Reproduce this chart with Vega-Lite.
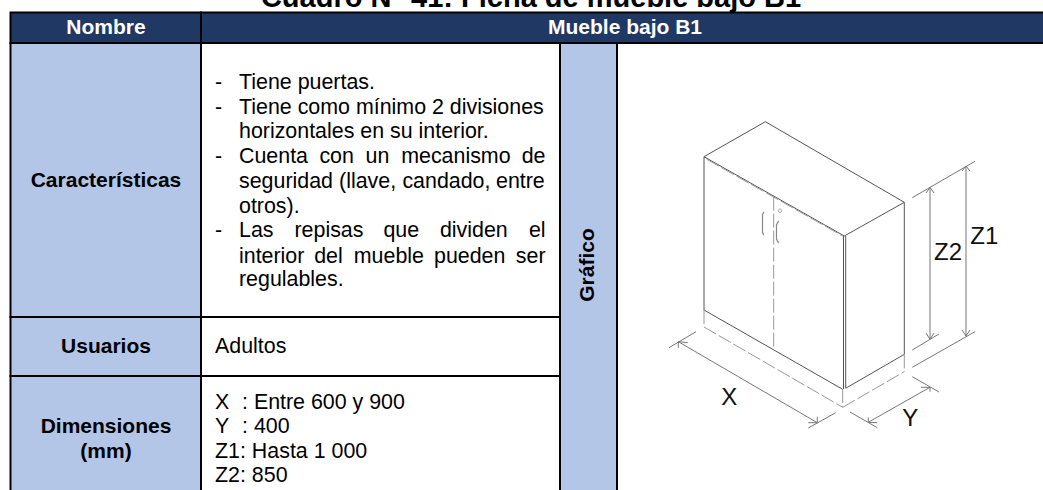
{
"$schema":"https://vega.github.io/schema/vega-lite/v6.json",
"width":1043,"height":490,"padding":0,"autosize":{"type":"fit","contains":"padding"},
"background":"white","view":{"stroke":null},
"datasets":{
"dark":[{"a":10.5,"b":201,"c":12.5,"d":43},{"a":201,"b":1050,"c":12.5,"d":43}],
"light":[{"a":10.5,"b":201,"c":43,"d":317},{"a":10.5,"b":201,"c":317,"d":376},{"a":10.5,"b":201,"c":376,"d":500},{"a":560,"b":617,"c":43,"d":500}],
"plain":[{"a":201,"b":560,"c":43,"d":317},{"a":201,"b":560,"c":317,"d":376},{"a":201,"b":560,"c":376,"d":500},{"a":617,"b":1050,"c":43,"d":500}],
"solid":[
{"a":765.3,"c":121.7,"b":704,"d":156.7},{"a":765.3,"c":121.7,"b":904.3,"d":202.3},{"a":704,"c":156.7,"b":844.3,"d":236},{"a":904.3,"c":202.3,"b":844.3,"d":236},
{"a":704,"c":156.7,"b":704,"d":310},{"a":704,"c":310,"b":842.7,"d":389.3},{"a":904.3,"c":354.3,"b":845.7,"d":388.3},{"a":904.3,"c":202.3,"b":904.3,"d":354.3},
{"a":843.5,"c":236,"b":843.5,"d":389},{"a":845.7,"c":236,"b":845.7,"d":388}],
"dim":[
{"a":912.3,"c":197.7,"b":975,"d":161.3},{"a":930,"c":187.3,"b":930,"d":339.3},{"a":966,"c":166,"b":966,"d":336},
{"a":912.3,"c":350,"b":939,"d":334},{"a":912.3,"c":367.3,"b":975,"d":331.7},
{"a":669,"c":347.7,"b":696,"d":331.7},{"a":808.3,"c":428,"b":835.7,"d":412.7},{"a":678.3,"c":341.7,"b":817.3,"d":422.7},
{"a":850,"c":412,"b":877.3,"d":427.7},{"a":912.3,"c":376.7,"b":939,"d":392},{"a":868.3,"c":422.3,"b":930,"d":387.3},
{"a":930,"c":187.3,"b":926,"d":193},{"a":930,"c":187.3,"b":934,"d":193},{"a":930,"c":339.3,"b":926,"d":333},{"a":930,"c":339.3,"b":934,"d":333},
{"a":966,"c":166,"b":962,"d":171},{"a":966,"c":166,"b":970,"d":171},{"a":966,"c":336,"b":962,"d":330},{"a":966,"c":336,"b":970,"d":330},
{"a":678.3,"c":341.7,"b":678.3,"d":347.7},{"a":678.3,"c":341.7,"b":687.7,"d":342.7},{"a":817.3,"c":422.7,"b":817.3,"d":416.7},{"a":817.3,"c":422.7,"b":808.3,"d":422.7},
{"a":868.3,"c":422.3,"b":868.3,"d":417.3},{"a":868.3,"c":422.3,"b":877.3,"d":422.7},{"a":930,"c":387.3,"b":921,"d":387.3},{"a":930,"c":387.3,"b":930,"d":391.7}],
"dashed":[
{"a":773.7,"c":196.7,"b":773.7,"d":350},{"a":704,"c":310,"b":704,"d":327},{"a":704,"c":327,"b":842.7,"d":407.3},{"a":842.7,"c":407.3,"b":904.3,"d":371.7},
{"a":904.3,"c":354.3,"b":904.3,"d":371.7},{"a":842.7,"c":389,"b":842.7,"d":407.3},{"a":706.7,"c":159.3,"b":842.7,"d":236}],
"handles":[
{"h":"l","a":764,"c":212},{"h":"l","a":762.5,"c":215},{"h":"l","a":762.5,"c":232},{"h":"l","a":764,"c":235},
{"h":"r","a":779,"c":221},{"h":"r","a":776.5,"c":225},{"h":"r","a":776.5,"c":239},{"h":"r","a":779,"c":243}],
"knob":[{"a":780,"c":210.7}],
"body":[
{"t":"-","a":215,"c":83},{"t":"Tiene puertas.","a":239,"c":83},
{"t":"-","a":215,"c":108},{"t":"Tiene como mínimo 2 divisiones","a":239,"c":108},
{"t":"horizontales en su interior.","a":239,"c":132},
{"t":"-","a":215,"c":157},{"t":"Cuenta","a":239,"c":157},{"t":"con","a":319.4,"c":157},{"t":"un","a":365.6,"c":157},{"t":"mecanismo","a":401.2,"c":157},{"t":"de","a":521.7,"c":157},
{"t":"seguridad","a":239,"c":182},{"t":"(llave,","a":339.1,"c":182},{"t":"candado,","a":402.4,"c":182},{"t":"entre","a":496,"c":182},
{"t":"otros).","a":239,"c":207},
{"t":"-","a":215,"c":231},{"t":"Las","a":239,"c":231},{"t":"repisas","a":294.5,"c":231},{"t":"que","a":383.4,"c":231},{"t":"dividen","a":439.9,"c":231},{"t":"el","a":528.9,"c":231},
{"t":"interior","a":239,"c":257},{"t":"del","a":314.2,"c":257},{"t":"mueble","a":353.8,"c":257},{"t":"pueden","a":434,"c":257},{"t":"ser","a":515.8,"c":257},
{"t":"regulables.","a":239,"c":280},
{"t":"Adultos","a":215,"c":347},
{"t":"X","a":215,"c":402.7},{"t":": Entre 600 y 900","a":242,"c":402.7},
{"t":"Y","a":215,"c":427},{"t":": 400","a":242,"c":427},
{"t":"Z1: Hasta 1 000","a":215,"c":451.7},
{"t":"Z2: 850","a":215,"c":475.7}],
"bold":[
{"t":"Características","a":106,"c":181},{"t":"Usuarios","a":106,"c":347},{"t":"Dimensiones","a":106,"c":427},{"t":"(mm)","a":106,"c":451.7}],
"white":[{"t":"Nombre","a":106,"c":28},{"t":"Mueble bajo B1","a":625,"c":28}],
"vertical":[{"t":"Gráfico","a":588,"c":265}],
"title":[{"t":"Cuadro N° 41: Ficha de mueble bajo B1","a":531,"c":7}],
"diagram":[{"t":"X","a":729.3,"c":398.3},{"t":"Y","a":910.3,"c":419.3},{"t":"Z2","a":948,"c":253},{"t":"Z1","a":984.3,"c":236.7}]
},
"encoding":{
"x":{"field":"a","type":"quantitative","axis":null,"scale":{"domain":[0,1043],"nice":false,"zero":false}},
"y":{"field":"c","type":"quantitative","axis":null,"scale":{"domain":[490,0],"nice":false,"zero":false}}
},
"layer":[
{"data":{"name":"dark"},"mark":{"type":"rect","fill":"#1F3864","stroke":"#000","strokeWidth":2,"clip":true},"encoding":{"x2":{"field":"b"},"y2":{"field":"d"}}},
{"data":{"name":"light"},"mark":{"type":"rect","fill":"#B4C6E7","stroke":"#000","strokeWidth":2,"clip":true},"encoding":{"x2":{"field":"b"},"y2":{"field":"d"}}},
{"data":{"name":"plain"},"mark":{"type":"rect","fill":"#fff","stroke":"#000","strokeWidth":2,"clip":true},"encoding":{"x2":{"field":"b"},"y2":{"field":"d"}}},
{"data":{"name":"solid"},"mark":{"type":"rule","color":"#555","strokeWidth":1},"encoding":{"x2":{"field":"b"},"y2":{"field":"d"}}},
{"data":{"name":"dim"},"mark":{"type":"rule","color":"#777","strokeWidth":1},"encoding":{"x2":{"field":"b"},"y2":{"field":"d"}}},
{"data":{"name":"dashed"},"mark":{"type":"rule","color":"#999","strokeWidth":1,"strokeDash":[14,3]},"encoding":{"x2":{"field":"b"},"y2":{"field":"d"}}},
{"data":{"name":"handles"},"mark":{"type":"line","color":"#888","strokeWidth":1.2,"interpolate":"monotone"},"encoding":{"detail":{"field":"h"},"order":{"field":"c"}}},
{"data":{"name":"knob"},"mark":{"type":"point","color":"#888","size":12,"strokeWidth":1}},
{"data":{"name":"body"},"mark":{"type":"text","font":"Liberation Sans","fontSize":21.4,"align":"left","baseline":"middle","color":"#000","clip":true},"encoding":{"text":{"field":"t"}}},
{"data":{"name":"bold"},"mark":{"type":"text","font":"Liberation Sans","fontSize":21,"fontWeight":"bold","align":"center","baseline":"middle","color":"#000"},"encoding":{"text":{"field":"t"}}},
{"data":{"name":"white"},"mark":{"type":"text","font":"Liberation Sans","fontSize":21,"fontWeight":"bold","align":"center","baseline":"middle","color":"#fff"},"encoding":{"text":{"field":"t"}}},
{"data":{"name":"vertical"},"mark":{"type":"text","font":"Liberation Sans","fontSize":21,"fontWeight":"bold","align":"center","baseline":"middle","angle":270,"color":"#000"},"encoding":{"text":{"field":"t"}}},
{"data":{"name":"title"},"mark":{"type":"text","font":"Liberation Sans","fontSize":29,"fontWeight":"bold","align":"center","baseline":"alphabetic","color":"#000","clip":true},"encoding":{"text":{"field":"t"}}},
{"data":{"name":"diagram"},"mark":{"type":"text","font":"Liberation Sans","fontSize":24,"align":"center","baseline":"middle","color":"#111"},"encoding":{"text":{"field":"t"}}}
]
}
